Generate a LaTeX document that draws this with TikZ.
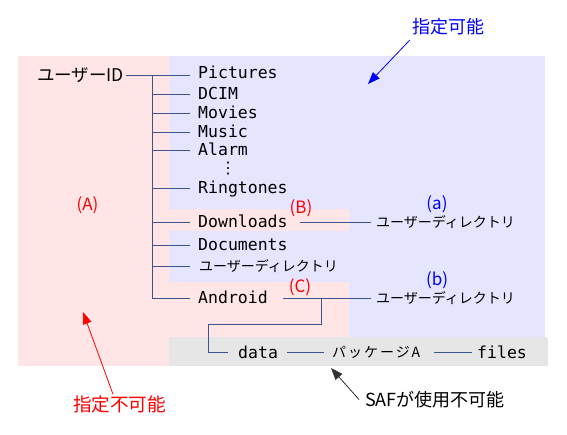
\documentclass[tikz,border=0pt]{standalone}
\usepackage{fontspec}
\newfontfamily\jpfont{Noto Sans CJK JP}
\newfontfamily\jpwide[LetterSpace=14]{Noto Sans CJK JP}
\newfontfamily\monofont{DejaVu Sans Mono}
\newfontfamily\symfont{DejaVu Sans}
\usetikzlibrary{arrows.meta}
\definecolor{pinkbg}{RGB}{255,229,229}
\definecolor{bluebg}{RGB}{229,229,255}
\definecolor{graybg}{RGB}{230,230,230}
\definecolor{treeline}{RGB}{60,85,140}
\begin{document}
\begin{tikzpicture}[x=1pt,y=-1pt,
  mono/.style={font=\monofont\fontsize{16.5}{18}\selectfont, inner sep=0pt, text height=12pt, text depth=0pt, anchor=west},
  jp/.style={font=\jpfont\fontsize{14}{16}\selectfont, inner sep=0pt, text height=11.2pt, text depth=0pt, anchor=west},
  jpid/.style={font=\jpfont\fontsize{17.5}{20}\selectfont, inner sep=0pt, text height=14pt, text depth=0pt, anchor=west},
  par/.style={font=\jpfont\fontsize{17}{19}\selectfont, inner sep=0pt, text height=12.5pt, text depth=0pt},
  lbl/.style={font=\jpfont\fontsize{18}{20}\selectfont, inner sep=0pt, text height=13.7pt, text depth=0pt},
  dotsnode/.style={font=\symfont\fontsize{16}{18}\selectfont, inner sep=0pt},
  tree/.style={draw=treeline, line width=0.9pt},
  arr/.style={-{Triangle[length=12pt,width=9pt]}, line width=0.8pt},
]
\useasboundingbox (0,0) rectangle (567,435);
% backgrounds
\fill[pinkbg] (18,56) rectangle (169,366);
\fill[bluebg] (169,56) rectangle (545,337);
\fill[pinkbg] (169,209) rectangle (349,231);
\fill[pinkbg] (169,282) rectangle (349,337);
\fill[graybg] (169,337) rectangle (548,366);

% tree nodes
\node[jpid] (uid) at (37,75) {ユーザーID};
\coordinate (trunkTop) at (152,75);
\coordinate (trunkBot) at (152,298);
\node[mono] (pic) at (198,73) {Pictures};
\node[mono] (dcim) at (198,94) {DCIM};
\node[mono] (mov) at (198,113) {Movies};
\node[mono] (mus) at (198,132) {Music};
\node[mono] (alm) at (198,150) {Alarm};
\node[dotsnode] (vd) at (228,169) {⋮};
\node[mono] (ring) at (198,188) {Ringtones};
\node[mono] (dl) at (198,222) {Downloads};
\node[mono] (doc) at (198,245) {Documents};
\node[jp] (udir) at (199,266) {ユーザーディレクトリ};
\node[mono] (and) at (198,298) {Android};

\draw[tree] ([xshift=2pt]uid.east) -- ([xshift=-8pt]pic.west |- uid.east);
\draw[tree] (trunkTop) -- (trunkBot);
\foreach \n in {dcim,mov,mus,alm,ring,dl,doc,and}
  \draw[tree] (trunkTop |- \n.west) -- ([xshift=-8pt]\n.west);
\draw[tree] (trunkTop |- udir.west) -- ([xshift=-9pt]udir.west);

% right side
\node[jp] (ud1) at (376,222) {ユーザーディレクトリ};
\node[jp] (ud2) at (376,298) {ユーザーディレクトリ};
\draw[tree] ([xshift=12pt]dl.east) -- ([xshift=-5pt]ud1.west);
\draw[tree] ([xshift=15.5pt]and.east) -- ([xshift=-5pt]ud2.west);
\coordinate (bend) at (321,298);
\coordinate (jog) at (208,324);

% bottom row
\node[mono] (data) at (238,352) {data};
\node[jp, font=\jpwide\fontsize{14}{16}\selectfont] (pkg) at (332,352) {パッケージA};
\node[mono] (files) at (477,352) {files};
\draw[tree] (bend) |- (jog) |- ([xshift=-10pt]data.west);
\draw[tree] ([xshift=9pt]data.east) -- ([xshift=-7.7pt]pkg.west);
\draw[tree] ([xshift=-43pt]files.west) -- ([xshift=-5.3pt]files.west);

% markers
\node[par, red] (A) at (87.5,204) {(A)};
\node[par, red] (B) at (301,207) {(B)};
\node[par, blue] (a) at (437,203) {(a)};
\node[par, red] (C) at (300,286) {(C)};
\node[par, blue] (b) at (437,279) {(b)};

% callouts
\node[lbl, blue] (kanou) at (448.5,27) {指定可能};
\node[lbl, red, font=\jpfont\fontsize{18.6}{20}\selectfont] (fukanou) at (119.5,405) {指定不可能};
\node[lbl, anchor=west] (saf) at (365,399.5) {SAFが使用不可能};
\coordinate (h1) at (368,84);
\coordinate (h2) at (83,312);
\coordinate (h3) at (331,368);
\draw[arr, blue] ([xshift=-2.5pt,yshift=-6pt]kanou.south west) -- (h1);
\draw[arr, red] ([xshift=-6.5pt,yshift=3.7pt]fukanou.north) -- (h2);
\draw[arr, black!80] ([xshift=-6pt]saf.west) -- (h3);
\end{tikzpicture}
\end{document}
